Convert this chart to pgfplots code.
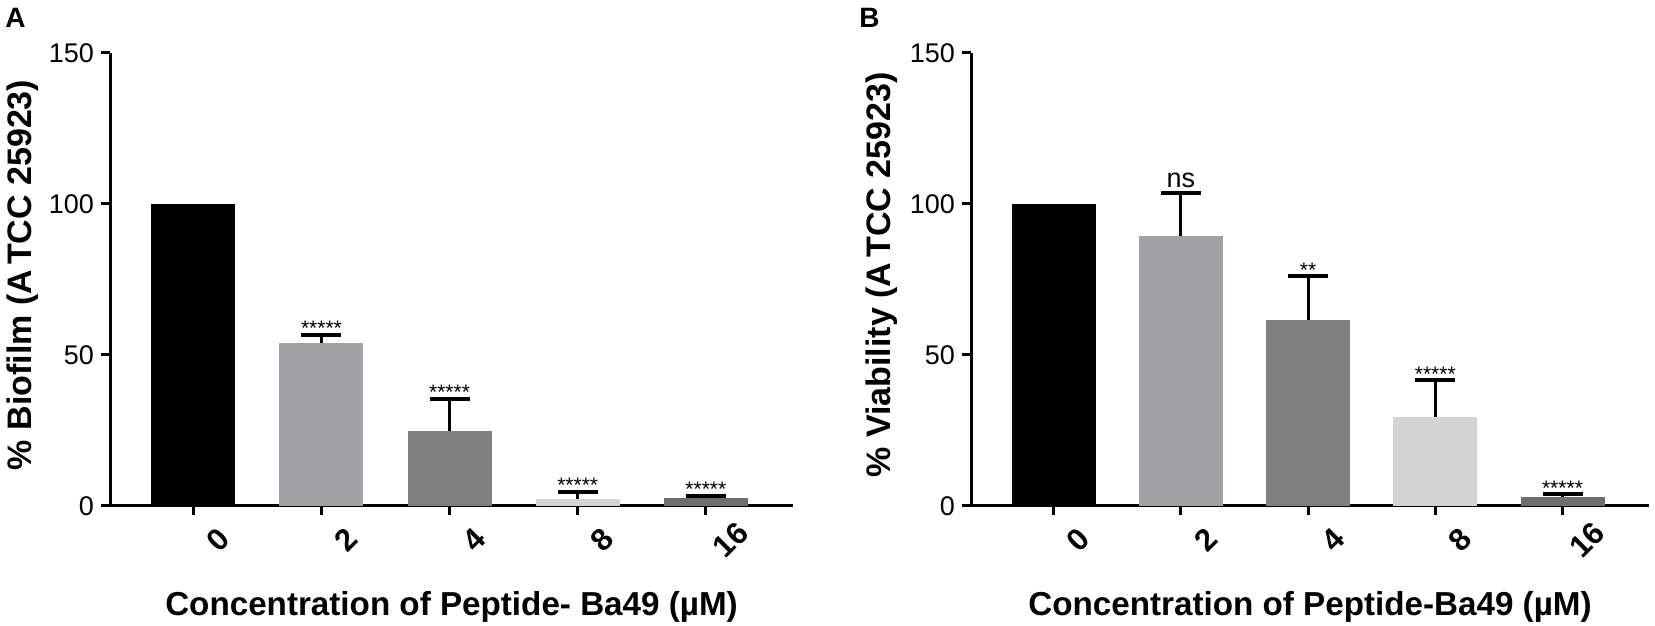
\documentclass[border=0pt]{standalone}
\usepackage{fontspec}
\setmainfont{Liberation Sans}
\usepackage{pgfplots}
\pgfplotsset{compat=1.18}
\definecolor{cA}{HTML}{000000}
\definecolor{cB}{HTML}{A0A0A5}
\definecolor{cC}{HTML}{808080}
\definecolor{cD}{HTML}{D4D4D4}
\definecolor{cE}{HTML}{6E6E6E}
\pgfplotsset{
  panel/.style={
    scale only axis,
    height=226.5pt,
    xmin=-0.65, xmax=4.68,
    ymin=0, ymax=150,
    axis x line=bottom, axis y line=left,
    axis line style={line width=1.5pt,-},
    tick style={line width=1.5pt,black},
    tick align=outside,
    major tick length=4.5pt,
    ytick={0,50,100,150},
    xtick={0,1,2,3,4},
    xticklabels={0,2,4,8,16},
    /pgf/number format/assume math mode=true,
    yticklabel style={font=\fontsize{13.5}{16}\selectfont},
    xticklabel style={font=\fontsize{15.5}{18}\selectfont\bfseries, rotate=45, anchor=center, yshift=-17.5pt, inner sep=1pt},
    ylabel style={font=\fontsize{17}{20}\selectfont\bfseries, at={(axis description cs:-0.128,0.51)}, anchor=center},
    xlabel style={font=\fontsize{16.6}{19}\selectfont\bfseries, at={(axis description cs:0.5,-0.222)}, anchor=center},
    clip=false,
  },
  bars/.style={ybar, bar width=42pt, bar shift=0pt, draw=none},
  eb/.style={error bars/.cd, y dir=plus, y explicit,
    error bar style={line width=1.4pt,black},
    error mark options={rotate=90, mark size=10pt, line width=2pt, black}},
}
\newcommand{\stars}[1]{\fontsize{10.5}{12}\selectfont #1}
\begin{document}
\begin{tikzpicture}
\useasboundingbox (0,0) rectangle (827.5pt,313pt);
\node[font=\fontsize{14}{16}\selectfont\bfseries] at (7.75pt,304pt) {A};
\node[font=\fontsize{14}{16}\selectfont\bfseries] at (434.75pt,304pt) {B};
% Panel A
\begin{axis}[panel, width=341.5pt, at={(55pt,60pt)}, anchor=south west,
  ylabel={\% Biofilm (A\kern2.5pt TCC 25923)},
  xlabel={Concentration of Peptide- Ba49 (µM)}]
\addplot[bars, fill=cA] coordinates {(0,100)};
\addplot[bars, fill=cB, eb] coordinates {(1,54) +- (0,2.6)};
\addplot[bars, fill=cC, eb] coordinates {(2,24.8) +- (0,10.6)};
\addplot[bars, fill=cD, eb] coordinates {(3,2.3) +- (0,2.4)};
\addplot[bars, fill=cE, eb] coordinates {(4,2.5) +- (0,0.8)};
\node[anchor=base] at (axis cs:1,56.3) {\stars{*****}};
\node[anchor=base] at (axis cs:2,35.1) {\stars{*****}};
\node[anchor=base] at (axis cs:3,4.4) {\stars{*****}};
\node[anchor=base] at (axis cs:4,3.0) {\stars{*****}};
\end{axis}
% Panel B
\begin{axis}[panel, width=339pt, at={(485.5pt,60pt)}, anchor=south west,
  ylabel={\% Viability (A\kern2.5pt TCC 25923)},
  ylabel style={at={(axis description cs:-0.131,0.51)}},
  xlabel={Concentration of Peptide-Ba49 (µM)}]
\addplot[bars, fill=cA] coordinates {(0,100)};
\addplot[bars, fill=cB, eb] coordinates {(1,89.4) +- (0,14.1)};
\addplot[bars, fill=cC, eb] coordinates {(2,61.6) +- (0,14.7)};
\addplot[bars, fill=cD, eb] coordinates {(3,29.6) +- (0,12.1)};
\addplot[bars, fill=cE, eb] coordinates {(4,3.1) +- (0,0.8)};
\node[anchor=base, font=\fontsize{13.5}{16}\selectfont] at (axis cs:1,105.5) {ns};
\node[anchor=base] at (axis cs:2,75.8) {\stars{**}};
\node[anchor=base] at (axis cs:3,41.2) {\stars{*****}};
\node[anchor=base] at (axis cs:4,3.4) {\stars{*****}};
\end{axis}
\end{tikzpicture}
\end{document}
